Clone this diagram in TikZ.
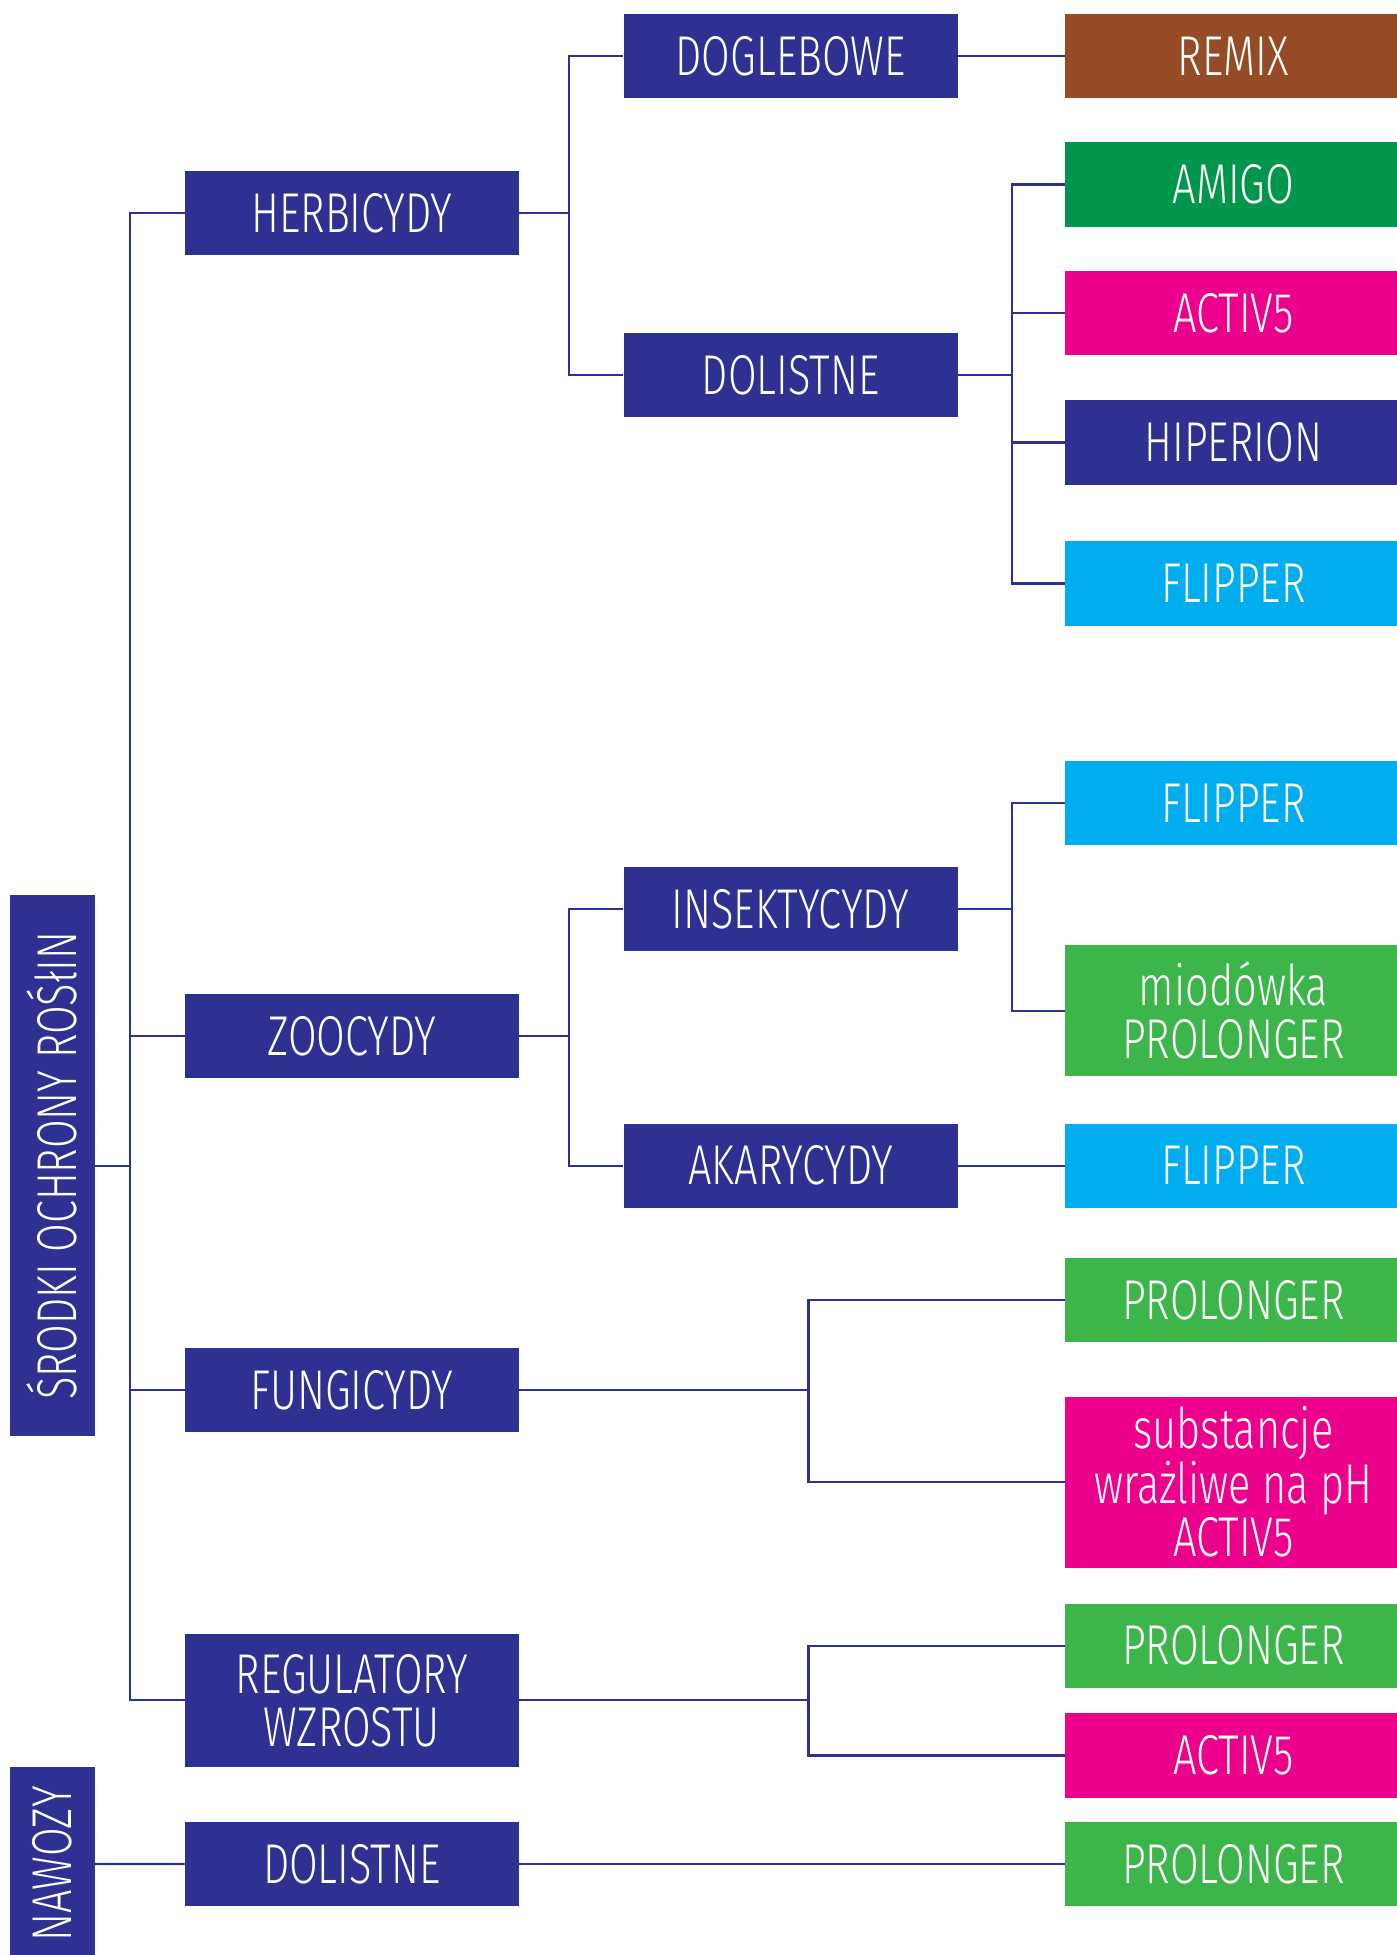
\documentclass[tikz,border=0pt]{standalone}
\usepackage{fontspec}
\newfontfamily\cond[FakeStretch=0.74]{Fira Sans Light}
\definecolor{navy}{HTML}{2E3192}
\definecolor{brownc}{HTML}{964B27}
\definecolor{greena}{HTML}{00964C}
\definecolor{magc}{HTML}{EC008C}
\definecolor{cyanc}{HTML}{00AEEF}
\definecolor{greenb}{HTML}{3CB54A}
\tikzset{
  bx/.style={fill=navy, text=white, inner sep=0pt, anchor=north west, minimum width=268pt, minimum height=67.5pt, align=center, font=\cond\fontsize{45}{42.5}\selectfont},
  rbx/.style={bx, minimum width=270pt},
  vbx/.style={fill=navy, text=white, inner sep=0pt, rotate=90, minimum height=68pt, align=center, font=\cond\fontsize{45}{42.5}\selectfont},
  conn/.style={draw=navy, line width=1.7pt}
}
\begin{document}
\begin{tikzpicture}[x=1pt,y=-1pt]
\useasboundingbox (0,0) rectangle (1120,1568);
% left vertical labels
\node[vbx, minimum width=434pt] (root) at (42,935) {ŚRODKI OCHRONY ROŚłIN};
\node[vbx, minimum width=156pt] (naw) at (42,1495) {NAWOZY};
% second column
\node[bx] (herb) at (148,137) {HERBICYDY};
\node[bx] (zoo) at (148,797) {ZOOCYDY};
\node[bx] (fung) at (148,1081) {FUNGICYDY};
\node[bx, minimum height=107pt] (reg) at (148,1310) {REGULATORY\\WZROSTU};
\node[bx] (ndol) at (148,1461) {DOLISTNE};
% third column
\node[bx] (dogl) at (500,11) {DOGLEBOWE};
\node[bx] (hdol) at (500,267) {DOLISTNE};
\node[bx] (ins) at (500,695) {INSEKTYCYDY};
\node[bx] (aka) at (500,901) {AKARYCYDY};
% right column
\node[rbx, fill=brownc] (remix) at (854,11) {REMIX};
\node[rbx, fill=greena] (amigo) at (854,114) {AMIGO};
\node[rbx, fill=magc] (act1) at (854,217) {ACTIV5};
\node[rbx, fill=navy] (hip) at (854,321) {HIPERION};
\node[rbx, fill=cyanc] (flip1) at (854,434) {FLIPPER};
\node[rbx, fill=cyanc] (flip2) at (854,610) {FLIPPER};
\node[rbx, fill=greenb, minimum height=105pt] (miod) at (854,758) {miodówka\\PROLONGER};
\node[rbx, fill=cyanc] (flip3) at (854,901) {FLIPPER};
\node[rbx, fill=greenb] (prol1) at (854,1009) {PROLONGER};
\node[rbx, fill=magc, minimum height=137pt] (subst) at (854,1120) {substancje\\wrażliwe na pH\\ACTIV5};
\node[rbx, fill=greenb] (prol2) at (854,1286) {PROLONGER};
\node[rbx, fill=magc] (act3) at (854,1374) {ACTIV5};
\node[rbx, fill=greenb] (prol3) at (854,1461) {PROLONGER};
% trunk
\draw[conn] (herb.west) -- ++(-44pt,0) coordinate (t1) |- (reg.west);
\draw[conn] (t1 |- zoo.west) -- (zoo.west);
\draw[conn] (t1 |- fung.west) -- (fung.west);
\draw[conn] (root.south) -- (t1 |- root.south);
\draw[conn] (naw.south) -- (ndol.west);
% herbicydy
\draw[conn] (herb.east) -- ++(40pt,0) coordinate (h1) |- (dogl.west);
\draw[conn] (h1) |- (hdol.west);
\draw[conn] (dogl.east) -- (remix.west);
\draw[conn] (hdol.east) -- ++(43pt,0) coordinate (d1) |- (amigo.west);
\draw[conn] (d1) |- (flip1.west);
\draw[conn] (d1 |- act1.west) -- (act1.west);
\draw[conn] (d1 |- hip.west) -- (hip.west);
% zoocydy
\draw[conn] (zoo.east) -- ++(40pt,0) coordinate (z1) |- (ins.west);
\draw[conn] (z1) |- (aka.west);
\draw[conn] (ins.east) -- ++(43pt,0) coordinate (i1) |- (flip2.west);
\draw[conn] (i1) |- (miod.west);
\draw[conn] (aka.east) -- (flip3.west);
% fungicydy
\draw[conn] (fung.east) -- ++(232pt,0) coordinate (f1) |- (prol1.west);
\draw[conn] (f1) |- (subst.west);
% regulatory
\draw[conn] (reg.east) -- ++(232pt,0) coordinate (r1) |- (prol2.west);
\draw[conn] (r1) |- (act3.west);
% nawozy
\draw[conn] (ndol.east) -- (prol3.west);
\end{tikzpicture}
\end{document}
